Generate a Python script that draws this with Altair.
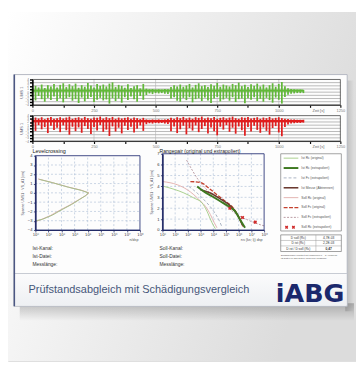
import altair as alt
import pandas as pd

W, H = 356, 357


def X(v):
    return v - 8


def Y(v):
    return v - 8


ONE = pd.DataFrame({"k": [0]})

# ---------------- data ----------------
STRIP_T = [i * 12.5 for i in range(89)]
GREEN_HI = [1.2, 2.0, 1.5, 2.4, 1.3, 2.2, 1.8, 2.6,
            1.5, 2.3, 2.8, 1.6, 2.5, 1.9, 2.7, 1.4,
            2.2, 1.7, 2.9, 2.1, 1.5, 2.6, 2.0, 2.4,
            1.8, 2.7, 3.1, 1.6, 2.3, 2.0, 1.4, 2.5,
            1.3, 1.9, 2.2, 1.2, 2.6, 1.1, 0.9, 1.0,
            0.8, 0.9, 0.8, 1.0, 0.9, 1.6, 2.2, 1.8,
            2.4, 1.7, 2.1, 2.6, 1.5, 2.3, 2.8, 1.9,
            2.2, 1.6, 2.5, 2.0, 2.9, 1.7, 2.4, 2.1,
            1.8, 2.6, 2.2, 3.0, 1.9, 2.3, 1.6, 2.5,
            2.0, 2.7, 1.8, 2.4, 1.5, 2.2, 2.8, 1.7,
            2.6, 3.2, 1.9, 1.2, 1.0, 0.9, 0.8, 0.8,
            0.7]
GREEN_LO = [-1.5, -2.6, -1.2, -2.2, -3.0, -1.8, -2.5, -1.4,
            -2.8, -1.9, -3.2, -2.0, -1.6, -2.7, -2.2, -3.4,
            -1.7, -2.9, -2.1, -1.5, -3.1, -2.4, -1.8, -2.6,
            -2.3, -3.6, -1.9, -2.8, -2.0, -3.3, -1.6, -2.5,
            -1.4, -2.2, -3.0, -1.2, -2.4, -0.9, -0.4, -0.6,
            -0.3, -0.4, -0.3, -0.5, -0.6, -2.0, -1.6, -2.7,
            -3.0, -1.8, -2.5, -1.6, -3.2, -2.2, -1.9, -2.8,
            -1.7, -2.6, -3.4, -2.0, -1.5, -2.9, -2.3, -1.8,
            -2.7, -1.6, -3.1, -2.2, -2.0, -3.5, -1.9, -2.4,
            -1.6, -2.8, -2.1, -3.0, -1.8, -2.5, -3.3, -1.7,
            -2.4, -3.6, -1.5, -0.8, -0.5, -0.4, -0.3, -0.3,
            -0.3]
RED_HI = [3.0, 3.4, 3.1, 3.5, 2.9, 3.3, 3.6, 3.0,
          3.2, 3.5, 3.1, 3.4, 3.7, 3.0, 3.3, 3.5,
          3.1, 3.6, 3.2, 3.0, 3.4, 3.3, 3.7, 3.1,
          3.5, 3.2, 3.6, 3.0, 3.4, 3.1, 3.3, 3.5,
          3.0, 3.4, 3.2, 2.9, 3.3, 2.8, 2.7, 2.8,
          2.7, 2.8, 2.7, 2.8, 2.9, 3.3, 3.0, 3.5,
          3.2, 3.6, 3.1, 3.4, 3.0, 3.5, 3.3, 3.7,
          3.1, 3.4, 3.2, 3.6, 3.0, 3.3, 3.5, 3.1,
          3.4, 3.7, 3.2, 3.0, 3.5, 3.3, 3.6, 3.1,
          3.3, 3.5, 3.0, 3.4, 3.2, 3.6, 3.1, 3.3,
          3.5, 3.2, 3.0, 2.9, 2.8, 2.8, 2.7, 2.7,
          2.7]
RED_LO = [0.6, -0.8, 1.0, -0.3, 0.4, -1.5, 0.8, -0.5,
          0.2, -1.2, 0.9, -0.6, -2.0, 0.5, -0.9, 0.3,
          -1.4, 0.7, -0.2, -1.8, 0.4, -0.7, 1.0, -1.1,
          -0.4, -2.4, 0.6, -1.0, 0.2, -1.6, 0.8, -0.5,
          0.5, -1.3, -0.1, 0.9, -0.8, 1.3, 1.6, 1.5,
          1.7, 1.6, 1.7, 1.5, 1.4, -0.9, 0.6, -1.5,
          -0.3, 0.8, -1.9, 0.1, -0.7, 0.9, -1.2, -0.2,
          0.7, -1.6, 0.3, -0.9, -2.2, 0.5, -0.4, 1.0,
          -1.1, 0.2, -1.7, 0.6, -0.6, -2.3, 0.4, -1.0,
          0.8, -0.5, -1.4, 0.3, -0.8, -2.0, 0.1, 0.7,
          -1.3, -2.5, 0.4, 1.2, 1.5, 1.6, 1.7, 1.7,
          1.8]
GREEN_BAND = [0.15, 0.85]
RED_BAND = [1.95, 2.65]
SIGNAL_END = 1100
STRIP_XDOMAIN = [0, 1250]
STRIP_YDOMAIN = [-4, 4]
STRIP_XTICKS = [0, 125, 250, 375, 500, 625, 750, 875, 1000, 1125, 1250]
STRIP_VGRID = [250, 500, 750, 1000]
STRIP_YTICKS = [-4, -3, -2, -1, 0, 1, 2, 3, 4]
STRIP_HGRID = [-3, -2, -1, 0, 1, 2, 3]

LOG_DOMAIN = [1, 1e8]
LOG_TICKS = [1, 10, 100, 1e3, 1e4, 1e5, 1e6, 1e7, 1e8]
LOG_GRID = [10, 100, 1e3, 1e4, 1e5, 1e6, 1e7]

LC_YDOMAIN = [-4, 4]
LC_YTICKS = [-4, -3, -2, -1, 0, 1, 2, 3, 4]
LC_HGRID = [-3, -2, -1, 0, 1, 2, 3]
LC_IST_LEVEL = [1.45, 1.1, 0.6, 0.25, 0.0, -0.25, -0.7, -1.25, -1.8, -2.4, -2.85, -3.0]
LC_IST_COUNT = [2, 20, 350, 3500, 11000, 8000, 2500, 600, 110, 20, 3.5, 1.1]
LC_SOLL_LEVEL = [1.5, 1.15, 0.65, 0.3, 0.0, -0.3, -0.75, -1.3, -1.85, -2.45, -2.9, -3.1]
LC_SOLL_COUNT = [1.6, 15, 280, 3000, 12500, 7000, 2000, 450, 80, 14, 2.5, 1.0]

RP_YDOMAIN = [0, 7]
RP_YTICKS = [0, 1, 2, 3, 4, 5, 6, 7]
RP_HGRID = [1, 2, 3, 4, 5, 6]
RP_SERIES = {
    "Ist Rc (original)": ([1.35, 49, 295, 1320, 3160, 7900, 14500],
                          [4.0, 3.4, 2.94, 2.48, 1.73, 0.67, 0.12]),
    "Ist Rc (extrapoliert)": ([537, 1780, 7940, 35500, 158000, 513000, 1.26e6, 3.16e6],
                              [4.0, 3.55, 3.1, 2.64, 2.18, 1.73, 0.97, 0.2]),
    "Ist Fc (extrapoliert)": ([120, 537, 2400, 10700, 26300, 47900],
                              [4.0, 3.39, 2.64, 1.73, 0.97, 0.3]),
    "Ist Messe (Abtrennen)": ([1000, 5900, 35500, 209000, 794000, 2.04e6],
                              [3.7, 3.39, 2.85, 2.24, 1.42, 0.42]),
    "Soll Rc (original)": ([1, 15, 89, 295, 1000, 2400, 5900, 12000, 19500],
                           [4.45, 4.15, 3.7, 3.24, 2.64, 2.18, 1.42, 0.67, 0.2]),
    "Soll Fc (original)": ([158, 1000, 4360, 19500, 87000, 282000, 794000, 1.45e6, 2.3e6],
                           [4.45, 4.36, 3.85, 3.24, 2.64, 2.18, 1.42, 0.82, 0.3]),
    "Soll Fc (extrapoliert)": ([79, 219, 537, 1780, 7940, 35500, 158000, 692000, 4.17e6, 2.5e7, 1e8],
                               [6.42, 5.5, 4.76, 4.0, 3.24, 2.64, 2.03, 1.42, 0.97, 0.6, 0.38]),
}
RP_MARK_COUNT = [2.0e5, 2.0e6, 2.0e7]
RP_MARK_RANGE = [2.0, 1.15, 0.72]
RP_MARK_NAME = "Soll Rc (extrapoliert)"

LEGEND_LABELS = list(RP_SERIES.keys()) + [RP_MARK_NAME]

INFO_LEFT = ["Ist-Kanal:", "Ist-Datei:", "Messlänge:"]
INFO_RIGHT = ["Soll-Kanal:", "Soll-Datei:", "Messlänge:"]
TABLE_LEFT = ["D soll (Rc)", "D ist (Rc)", "D ist / D soll (Rc)"]
TABLE_RIGHT = ["4,7E-03", "2,2E-03", "0,47"]
NOTE = ["Schädigungen ermittelt mit Wöhlerlinie k = 5, Vergleich",
        "Ist-Daten zu Soll-Daten (Referenz-Messung)"]
TITLE = "Prüfstandsabgleich mit Schädigungsvergleich"
LOGO = "iABG"

# ---------------- styles ----------------
STYLE = {
    "Ist Rc (original)": dict(color="#a9cf8c", strokeWidth=1.0),
    "Ist Rc (extrapoliert)": dict(color="#3f7a22", strokeWidth=2.0),
    "Ist Fc (extrapoliert)": dict(color="#a9b2c2", strokeWidth=1.0, strokeDash=[3, 2]),
    "Ist Messe (Abtrennen)": dict(color="#6b3a30", strokeWidth=1.6),
    "Soll Rc (original)": dict(color="#e2b2b0", strokeWidth=1.0),
    "Soll Fc (original)": dict(color="#c4402e", strokeWidth=1.3, strokeDash=[4, 1.5]),
    "Soll Fc (extrapoliert)": dict(color="#b89aa2", strokeWidth=1.0, strokeDash=[2, 1.5]),
}
FONT = "Liberation Sans"


def txt(s, x, y, size=5.0, color="#333", align="left", baseline="middle",
        weight="normal", font=FONT):
    return alt.Chart(ONE).mark_text(align=align, baseline=baseline, fontSize=size,
                                    color=color, fontWeight=weight, font=font).encode(
        x=alt.value(X(x)), y=alt.value(Y(y)), text=alt.value(s))


def box(x0, y0, x1, y1, **kw):
    return alt.Chart(ONE).mark_rect(**kw).encode(
        x=alt.value(X(x0)), x2=alt.value(X(x1)), y=alt.value(Y(y0)), y2=alt.value(Y(y1)))


def hline(x0, x1, y, **kw):
    return alt.Chart(ONE).mark_rule(**kw).encode(
        x=alt.value(X(x0)), x2=alt.value(X(x1)), y=alt.value(Y(y)))


def vline(x, y0, y1, **kw):
    return alt.Chart(ONE).mark_rule(**kw).encode(
        x=alt.value(X(x)), y=alt.value(Y(y0)), y2=alt.value(Y(y1)))


def grad(c0, c1, x2=1, y2=0):
    return {"gradient": "linear", "x1": 0, "y1": 0, "x2": x2, "y2": y2,
            "stops": [{"offset": 0, "color": c0}, {"offset": 1, "color": c1}]}


class Panel:
    """All layers of one panel share the same scale and axis objects."""

    def __init__(self, xs, ys, xa, ya, xdom, ydom):
        self.xs, self.ys, self.xa, self.ya = xs, ys, xa, ya
        self.xdom, self.ydom = xdom, ydom

    def X(self, f):
        return alt.X(f, type="quantitative", scale=self.xs, axis=self.xa)

    def Y(self, f):
        return alt.Y(f, type="quantitative", scale=self.ys, axis=self.ya)

    def hgrid(self, vals, **kw):
        df = pd.DataFrame({"v": vals, "a": self.xdom[0], "b": self.xdom[1]})
        return alt.Chart(df).mark_rule(**kw).encode(x=self.X("a"), x2="b", y=self.Y("v"))

    def vgrid(self, vals, **kw):
        df = pd.DataFrame({"v": vals, "a": self.ydom[0], "b": self.ydom[1]})
        return alt.Chart(df).mark_rule(**kw).encode(x=self.X("v"), y=self.Y("a"), y2="b")

    def rect(self, x0, x1, y0, y1, **kw):
        df = pd.DataFrame({"x0": [x0], "x1": [x1], "y0": [y0], "y1": [y1]})
        return alt.Chart(df).mark_rect(**kw).encode(
            x=self.X("x0"), x2="x1", y=self.Y("y0"), y2="y1")

    def frame(self, **kw):
        return self.rect(self.xdom[0], self.xdom[1], self.ydom[0], self.ydom[1], **kw)


# ---------------- strips ----------------
def strip_panel(hi, lo, band, color, top, bot, ytitle):
    xs = alt.Scale(domain=STRIP_XDOMAIN, range=[X(33), X(348)], nice=False, zero=False)
    ys = alt.Scale(domain=STRIP_YDOMAIN, range=[Y(bot), Y(top)], nice=False, zero=False)
    xaxis = alt.Axis(orient="bottom", offset=Y(bot) - H, values=STRIP_XTICKS,
                     labelExpr="datum.value % 250 == 0 ? '' + datum.value : ''",
                     title="Zeit [s]", titleX=X(325), titleY=3.5, titleBaseline="top",
                     titleFontSize=4, titleFontWeight="normal", titleColor="#666",
                     tickColor="#111", tickWidth=1.2, tickSize=2.5, domainColor="#333",
                     domainWidth=1, labelFontSize=4, labelColor="#777", labelPadding=1,
                     grid=False, labelFlush=False, labelFont=FONT, titleFont=FONT,
                     zindex=2)
    yaxis = alt.Axis(orient="left", offset=-X(33), values=STRIP_YTICKS, title=ytitle,
                     titleFontSize=4, titleFontWeight="normal", titleColor="#667",
                     titlePadding=2, tickColor="#000", tickWidth=1.5, tickSize=3,
                     domainColor="#000", domainWidth=1.5, labelFontSize=3.2,
                     labelColor="#777", labelPadding=1, grid=False, labelFont=FONT,
                     titleFont=FONT, zindex=2)
    p = Panel(xs, ys, xaxis, yaxis, STRIP_XDOMAIN, STRIP_YDOMAIN)
    sig = pd.DataFrame({"t": STRIP_T, "lo": lo, "hi": hi})
    spikes = alt.Chart(sig).mark_rule(color=color, strokeWidth=1.8).encode(
        x=p.X("t"), y=p.Y("lo"), y2="hi")
    return alt.layer(
        p.hgrid(STRIP_HGRID, color="#8c8c8c", strokeWidth=0.6),
        p.vgrid(STRIP_VGRID, color="#b0b0b0", strokeWidth=0.6),
        p.rect(0, SIGNAL_END, band[0], band[1], color=color),
        spikes,
        p.frame(fill="transparent", stroke="#444", strokeWidth=0.8),
    )


SUP = "['\u2070','\u00b9','\u00b2','\u00b3','\u2074','\u2075','\u2076','\u2077','\u2078']"
LOG_LABEL = "'10' + " + SUP + "[round(log(datum.value) / LN10)]"


def log_panel(left, right, top, bot, ydom, yticks, xtitle, ytitle):
    xs = alt.Scale(type="log", domain=LOG_DOMAIN, range=[X(left), X(right)], nice=False)
    ys = alt.Scale(domain=ydom, range=[Y(bot), Y(top)], nice=False, zero=False)
    xaxis = alt.Axis(orient="bottom", offset=Y(bot) - H, values=LOG_TICKS,
                     labelExpr=LOG_LABEL, title=xtitle, titleX=X(right) - 2,
                     titleY=8, titleAlign="right", titleBaseline="top",
                     titleFontSize=3.8, titleFontWeight="normal", titleColor="#555",
                     tickColor="#222a66", tickSize=2, tickWidth=0.8,
                     domainColor="#222a66", domainWidth=1.2, labelFontSize=3.8,
                     labelColor="#333", labelPadding=1, grid=False, labelFlush=False,
                     labelFont="DejaVu Sans", titleFont=FONT, zindex=2)
    yaxis = alt.Axis(orient="left", offset=-X(left), values=yticks, title=ytitle,
                     titleFontSize=3.6, titleFontWeight="normal", titleColor="#556",
                     titlePadding=3, tickColor="#222a66", tickSize=2, tickWidth=0.8,
                     domainColor="#222a66", domainWidth=1.6, labelFontSize=4.2,
                     labelColor="#333", labelPadding=1.5, grid=False,
                     labelFont=FONT, titleFont=FONT, zindex=2)
    return Panel(xs, ys, xaxis, yaxis, LOG_DOMAIN, ydom)


GRID_STYLE = dict(color="#a6b8d2", strokeWidth=0.6, strokeDash=[2, 2])
FRAME_STYLE = dict(fill="transparent", stroke="#2a3478", strokeWidth=0.9)

# levelcrossing
lc = log_panel(36, 143, 155, 231, LC_YDOMAIN, LC_YTICKS, "n/dsp",
               "Spanne UMS1 \u00b7 VS_A1 [cm]")
lc_layers = [lc.vgrid(LOG_GRID, **GRID_STYLE), lc.hgrid(LC_HGRID, **GRID_STYLE)]
for cnt, lev, col in ((LC_SOLL_COUNT, LC_SOLL_LEVEL, "#d9a9a6"),
                      (LC_IST_COUNT, LC_IST_LEVEL, "#a7bf8c")):
    df = pd.DataFrame({"n": cnt, "lv": lev, "i": list(range(len(lev)))})
    lc_layers.append(alt.Chart(df).mark_line(color=col, strokeWidth=1.0).encode(
        x=lc.X("n"), y=lc.Y("lv"), order="i:Q"))
lc_layers.append(lc.frame(**FRAME_STYLE))
lc_panel = alt.layer(*lc_layers)

# rangepair
rp = log_panel(166, 270, 153, 231, RP_YDOMAIN, RP_YTICKS, "ns (ks; lj) dsp",
               "Spanne UMS1 \u00b7 VS_A1 [cm]")
rp_layers = [rp.vgrid(LOG_GRID, **GRID_STYLE), rp.hgrid(RP_HGRID, **GRID_STYLE)]
draw_order = ["Soll Rc (original)", "Soll Fc (extrapoliert)", "Ist Fc (extrapoliert)",
              "Ist Rc (original)", "Soll Fc (original)", "Ist Messe (Abtrennen)",
              "Ist Rc (extrapoliert)"]
for name in draw_order:
    cnt, rng = RP_SERIES[name]
    rp_layers.append(alt.Chart(pd.DataFrame({"n": cnt, "r": rng})).mark_line(
        interpolate="monotone", **STYLE[name]).encode(x=rp.X("n"), y=rp.Y("r")))
rp_layers.append(alt.Chart(pd.DataFrame({"n": RP_MARK_COUNT, "r": RP_MARK_RANGE})).mark_point(
    shape="cross", angle=45, size=14, filled=True, color="#d02a2a", opacity=1).encode(
    x=rp.X("n"), y=rp.Y("r")))
rp_layers.append(rp.frame(**FRAME_STYLE))
rp_panel = alt.layer(*rp_layers)

# ---------------- decorations ----------------
layers = []
layers.append(box(8, 8, 364, 365, fill=grad("#ffffff", "#dcdcdc", 1, 0.35)))
layers.append(box(20, 306, 362, 324, fill=grad("rgba(0,0,0,0.22)", "rgba(0,0,0,0)", 0, 1)))
layers.append(box(353, 78, 362, 314, fill=grad("rgba(0,0,0,0.16)", "rgba(0,0,0,0)", 1, 0)))
layers.append(box(14, 72, 355, 309, fill="#fdfdfd", stroke="#b4b8c2", strokeWidth=1))
layers.append(box(15, 276, 354, 308, fill=grad("#fbfbfc", "#eef0f3", 0, 1)))
layers.append(hline(14, 355, 275.5, color="#c6cad2", strokeWidth=1))
layers.append(vline(14.5, 72, 309, color="#4c5783", strokeWidth=1.5))

layers.append(strip_panel(GREEN_HI, GREEN_LO, GREEN_BAND, "#62b83a", 77, 103, "UMS 1"))
layers.append(strip_panel(RED_HI, RED_LO, RED_BAND, "#e01e1e", 114, 140, "UMS 1"))
layers.append(lc_panel)
layers.append(rp_panel)

layers.append(txt("Levelcrossing", 33, 150.5, size=5.6, color="#222"))
layers.append(txt("Rangepair (original und extrapoliert)", 163, 150.5, size=5.2, color="#222"))
for i, s in enumerate(INFO_LEFT):
    layers.append(txt(s, 33, 249 + i * 8.2, size=5.0, color="#333"))
for i, s in enumerate(INFO_RIGHT):
    layers.append(txt(s, 163, 249 + i * 8.2, size=5.0, color="#333"))

# legend box
layers.append(box(287, 153, 349, 232, fill="#ffffff", stroke="#8a8a8a", strokeWidth=0.8))
for i, name in enumerate(LEGEND_LABELS):
    yy = 157.5 + i * 10.1
    if name in STYLE:
        layers.append(hline(290, 305, yy, **STYLE[name]))
    else:
        for xx in (293, 300):
            layers.append(alt.Chart(ONE).mark_point(
                shape="cross", angle=45, size=12, filled=True, color="#d02a2a", opacity=1).encode(
                x=alt.value(X(xx)), y=alt.value(Y(yy))))
    layers.append(txt(name, 308, yy, size=3.4, color="#555"))

# table
layers.append(box(287, 236, 349, 253, fill="#ffffff", stroke="#777", strokeWidth=0.7))
layers.append(hline(287, 349, 241.7, color="#999", strokeWidth=0.5))
layers.append(hline(287, 349, 247.3, color="#999", strokeWidth=0.5))
layers.append(vline(323, 236, 253, color="#999", strokeWidth=0.5))
for i, (a, b) in enumerate(zip(TABLE_LEFT, TABLE_RIGHT)):
    yy = 238.9 + i * 5.6
    layers.append(txt(a, 305, yy, size=3.3, color="#333", align="center"))
    layers.append(txt(b, 336, yy, size=3.3, color="#333", align="center",
                      weight="bold" if i == 2 else "normal"))
for i, s in enumerate(NOTE):
    layers.append(txt(s, 287, 256.5 + i * 3.2, size=2.4, color="#555"))

layers.append(txt(TITLE, 29, 292, size=11.2, color="#46577a"))
layers.append(txt(LOGO, 282, 304.5, size=26, color="#1b286c", weight="bold",
                  baseline="alphabetic", font="DejaVu Sans"))

chart = alt.layer(*layers).resolve_scale(
    x="independent", y="independent"
).properties(
    width=W, height=H, padding=0, autosize=alt.AutoSizeParams(type="none")
).configure_view(strokeWidth=0).configure(font=FONT, background="#ffffff")

chart.save("out.html", embed_options={"renderer": "svg", "actions": False})
